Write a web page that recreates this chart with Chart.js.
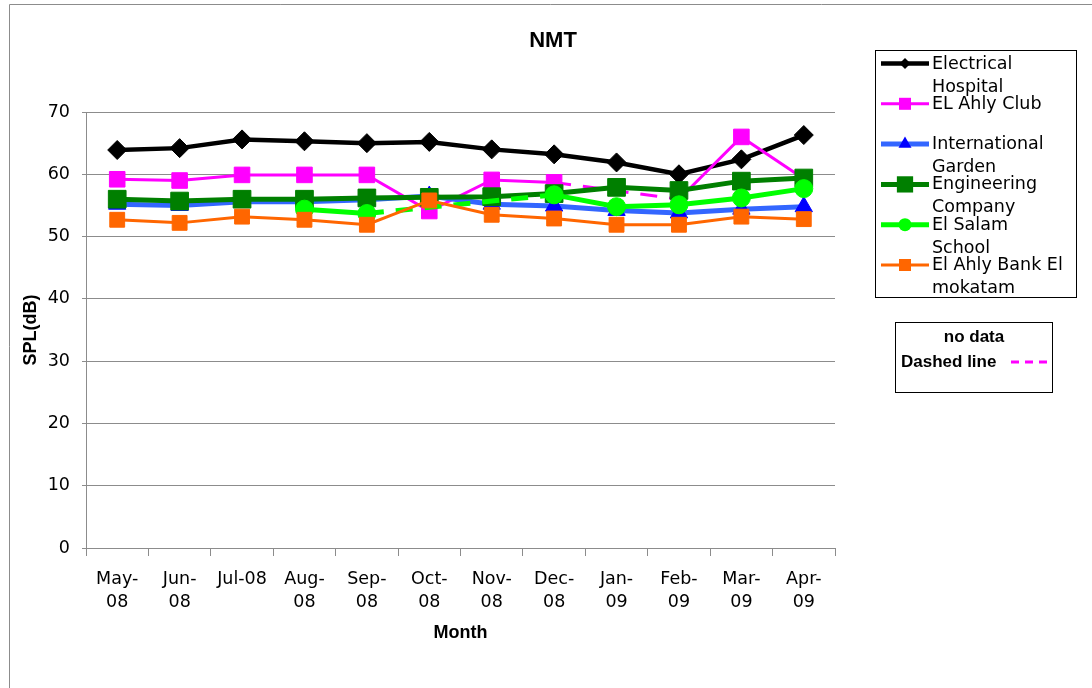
<!DOCTYPE html>
<html>
<head>
<meta charset="utf-8">
<title>NMT</title>
<script src="https://cdn.jsdelivr.net/npm/chart.js@4.4.0/dist/chart.umd.min.js"></script>
<style>
  html, body { margin: 0; padding: 0; background: #fff; }
  #wrap { width: 1092px; height: 688px; }
</style>
</head>
<body>
<div id="wrap"><canvas id="myChart" width="1092" height="688"></canvas></div>
<script>
// Monthly SPL readings
const months = [['May-', '08'], ['Jun-', '08'], ['Jul-08'], ['Aug-', '08'], ['Sep-', '08'], ['Oct-', '08'],
                ['Nov-', '08'], ['Dec-', '08'], ['Jan-', '09'], ['Feb-', '09'], ['Mar-', '09'], ['Apr-', '09']];

const electricalHospital  = [63.9, 64.2, 65.6, 65.3, 65.0, 65.2, 64.0, 63.2, 61.9, 60.0, 62.4, 66.3];
const elAhlyClub          = [59.2, 59.0, 59.9, 59.9, 59.9, 54.1, 59.1, 58.7, null, 56.0, 66.0, 59.3];
const internationalGarden = [55.2, 55.0, 55.6, 55.6, 55.9, 56.5, 55.2, 54.9, 54.2, 53.8, 54.4, 54.8];
const engineeringCompany  = [56.0, 55.7, 56.0, 56.0, 56.2, 56.3, 56.4, 56.9, 57.9, 57.4, 58.9, 59.4];
const elSalamSchool       = [null, null, null, 54.4, 53.7, null, null, 56.7, 54.8, 55.1, 56.2, 57.7];
const elAhlyBank          = [52.7, 52.2, 53.2, 52.7, 51.9, 55.8, 53.5, 52.9, 51.9, 51.9, 53.2, 52.8];

const seriesNames = ['Electrical Hospital', 'EL Ahly Club', 'International Garden',
                     'Engineering Company', 'El Salam School', 'El Ahly Bank El mokatam'];
const legendLines = [['Electrical', 'Hospital'], ['EL Ahly Club'], ['International', 'Garden'],
                     ['Engineering', 'Company'], ['El Salam', 'School'], ['El Ahly Bank El', 'mokatam']];
const yTicks = [0, 10, 20, 30, 40, 50, 60, 70];

(() => {
  const canvas = document.getElementById('myChart');
  if (!canvas) return;

  const REG = 'DejaVu Sans';
  const BOLD = 'Liberation Sans';

  // style per series: line colour, line width, marker shape, marker size, marker colour
  const styles = [
    { line: '#000000', w: 4.5, shape: 'rectRot', r: 9.5,  fill: '#000000', lr: 5.5 },
    { line: '#ff00ff', w: 3,   shape: 'rect',    r: 11,   fill: '#ff00ff', lr: 8.5 },
    { line: '#3366ff', w: 5,   shape: 'triangle', r: 10,  fill: '#0000ff', lr: 7.5 },
    { line: '#007f00', w: 5,   shape: 'rect',    r: 12.5, fill: '#007f00', lr: 11.5 },
    { line: '#00ff00', w: 5,   shape: 'circle',  r: 9,    fill: '#00ff00', lr: 6.5 },
    { line: '#ff6600', w: 3,   shape: 'rect',    r: 10.5, fill: '#ff6600', lr: 8.5 }
  ];
  const values = [electricalHospital, elAhlyClub, internationalGarden,
                  engineeringCompany, elSalamSchool, elAhlyBank];

  // segments that bridge missing months are dashed
  const gapDash = data => ctx => (data[ctx.p1DataIndex - 1] == null ? [17, 12] : undefined);

  const datasets = values.map((data, i) => ({
    label: seriesNames[i],
    data,
    borderColor: styles[i].line,
    borderWidth: styles[i].w,
    backgroundColor: styles[i].fill,
    pointStyle: styles[i].shape,
    pointRadius: styles[i].r,
    pointBackgroundColor: styles[i].fill,
    pointBorderColor: styles[i].fill,
    pointBorderWidth: 1,
    tension: 0,
    spanGaps: true,
    segment: { borderDash: gapDash(data) },
    order: values.length - i // later series sit on top, as in the original
  }));

  function marker(ctx, shape, r, x, y) {
    ctx.beginPath();
    if (shape === 'rectRot') {
      ctx.moveTo(x - r, y); ctx.lineTo(x, y - r); ctx.lineTo(x + r, y); ctx.lineTo(x, y + r);
    } else if (shape === 'rect') {
      const s = r * Math.SQRT1_2;
      ctx.rect(x - s, y - s, 2 * s, 2 * s);
    } else if (shape === 'triangle') {
      ctx.moveTo(x, y - r);
      ctx.lineTo(x + r * 0.866, y + r / 2);
      ctx.lineTo(x - r * 0.866, y + r / 2);
    } else {
      ctx.arc(x, y, r, 0, Math.PI * 2);
    }
    ctx.closePath();
    ctx.fill();
  }

  const decor = {
    id: 'decor',
    beforeDraw(chart) {
      const ctx = chart.ctx;
      ctx.save();
      ctx.fillStyle = '#fff';
      ctx.fillRect(0, 0, chart.width, chart.height);
      ctx.strokeStyle = '#8c8c8c';
      ctx.lineWidth = 1;
      ctx.beginPath();
      ctx.moveTo(9.5, chart.height); ctx.lineTo(9.5, 4.5); ctx.lineTo(chart.width, 4.5);
      ctx.stroke();
      ctx.restore();
    },
    afterDraw(chart) {
      const ctx = chart.ctx;
      ctx.save();
      // title
      ctx.fillStyle = '#000';
      ctx.font = 'bold 22px "' + BOLD + '"';
      ctx.textAlign = 'center';
      ctx.textBaseline = 'middle';
      ctx.fillText('NMT', 553, 41);

      // legend
      ctx.strokeStyle = '#000';
      ctx.lineWidth = 1;
      ctx.strokeRect(875.5, 50.5, 201, 247);
      ctx.font = '17.5px "' + REG + '"';
      ctx.textAlign = 'left';
      legendLines.forEach((lines, i) => {
        const y = 63.5 + i * 40.3;
        const st = styles[i];
        ctx.strokeStyle = st.line;
        ctx.lineWidth = st.w;
        ctx.beginPath();
        ctx.moveTo(881, y); ctx.lineTo(929, y);
        ctx.stroke();
        ctx.fillStyle = st.fill;
        marker(ctx, st.shape, st.lr, 905, y);
        ctx.fillStyle = '#000';
        lines.forEach((t, k) => ctx.fillText(t, 932, y + 0.5 + k * 23));
      });

      // "no data" note
      ctx.strokeStyle = '#000';
      ctx.lineWidth = 1;
      ctx.strokeRect(895.5, 322.5, 157, 70);
      ctx.font = 'bold 17px "' + BOLD + '"';
      ctx.textAlign = 'center';
      ctx.fillText('no data', 974, 337);
      ctx.textAlign = 'left';
      ctx.fillText('Dashed line', 901, 362);
      ctx.strokeStyle = '#ff00ff';
      ctx.lineWidth = 3;
      ctx.setLineDash([8, 6]);
      ctx.beginPath();
      ctx.moveTo(1011, 362); ctx.lineTo(1047, 362);
      ctx.stroke();
      ctx.restore();
    }
  };

  new Chart(canvas, {
    type: 'line',
    data: { labels: months, datasets },
    options: {
      responsive: false,
      animation: false,
      events: [],
      layout: { padding: { left: 0, top: 112, right: 257, bottom: 0 } },
      plugins: {
        legend: { display: false },
        title: { display: false },
        tooltip: { enabled: false }
      },
      scales: {
        x: {
          offset: true,
          grid: { offset: true, drawOnChartArea: false, drawTicks: true, tickLength: 8, color: '#8c8c8c' },
          border: { color: '#8c8c8c', width: 1 },
          ticks: {
            color: '#000', autoSkip: false, maxRotation: 0, padding: 12,
            font: { family: REG, size: 17.5, lineHeight: 1.3 }
          },
          title: {
            display: true, text: 'Month', color: '#000',
            font: { family: BOLD, size: 18, weight: 'bold' },
            padding: { top: 0, bottom: 44 }
          },
          afterFit: s => { s.height = 140; }
        },
        y: {
          min: 0,
          max: 70,
          afterBuildTicks: s => { s.ticks = yTicks.map(v => ({ value: v })); },
          grid: { color: '#8c8c8c', tickLength: 4 },
          border: { color: '#8c8c8c', width: 1 },
          ticks: {
            color: '#000', padding: 12,
            font: { family: REG, size: 17.5 }
          },
          title: {
            display: true, text: 'SPL(dB)', color: '#000',
            font: { family: BOLD, size: 18, weight: 'bold' },
            padding: { top: 20, bottom: 0 }
          },
          afterFit: s => { s.width = 86; }
        }
      }
    },
    plugins: [decor]
  });
})();
</script>
</body>
</html>
